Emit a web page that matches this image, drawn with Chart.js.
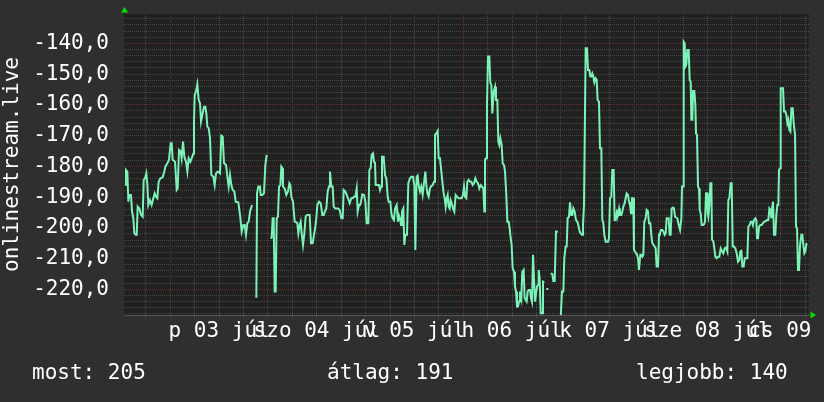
<!DOCTYPE html>
<html>
<head>
<meta charset="utf-8">
<style>
  html, body { margin: 0; padding: 0; background: #2f2f2f; }
  #wrap { width: 824px; height: 402px; }
</style>
<script src="https://cdn.jsdelivr.net/npm/chart.js@4.4.1/dist/chart.umd.min.js"></script>
</head>
<body>
<div id="wrap"><canvas id="grafikon" width="824" height="402"></canvas></div>
<script>
// Idő (órák 07.03 00:00-tól) és mért értékek, null = adathiány
const hours = [
  -11.05, -10.89, -10.56, -10.31, -10.07, -9.66, -9.41, -9.08, -8.84, -8.51,
  -8.26, -8.02, -7.61, -7.20, -6.79, -6.54, -6.22, -5.89, -5.64, -5.40,
  -4.99, -4.58, -4.17, -3.84, -3.51, -3.19, -2.86, -2.45, -1.87, -1.47,
  -1.22, -0.73, -0.32, 0.09, 0.34, 0.58, 1.16, 1.57, 1.81, 2.14,
  2.55, 2.79, 3.12, 3.45, 3.86, 4.19, 4.51, 4.92, 5.25, 5.66,
  5.82, 5.99, 6.32, 6.64, 6.97, 7.30, 7.55, 7.95, 8.28, 8.61,
  8.86, 9.10, 9.43, 9.76, 10.08, 10.58, 10.90, 11.23, 11.64, 12.21,
  12.54, 12.87, 13.20, 13.69, 14.02, 14.34, 14.67, 15.00, 15.33, 15.74,
  16.06, 16.72, 17.13, 17.54, 17.95, 18.28, 18.60, 18.93, 19.26, 19.59,
  20.08, 20.50, 20.90, 21.15, 21.31, 21.63, 22.04, 22.20, 22.61, 23.02,
  23.35, 23.68, 24.10, 24.58, 24.91, 25.15, 25.40, 25.65, 25.89, 26.14,
  26.46, 26.71, 27.04, 27.28, 27.53, 27.69, 28.10, 28.51, 28.92, 29.25,
  29.50, 29.74, 30.15, 30.56, 30.97, 31.22, 31.46, 31.79, 32.03, 32.28,
  32.61, 32.94, 33.26, 33.59, 34.25, 34.57, 34.98, 35.31, 35.64, 35.88,
  36.13, 36.54, 36.95, 37.36, 37.69, 38.01, 38.34, 38.67, 39.00, 39.24,
  39.57, 39.90, 40.14, 40.55, 41.21, 41.62, 42.03, 42.36, 42.60, 43.01,
  43.34, 43.67, 44.08, 44.49, 44.81, 45.14, 45.47, 45.80, 46.04, 46.37,
  46.62, 46.86, 47.19, 47.60, 47.93, 48.25, 48.66, 48.91, 49.24, 49.48,
  49.81, 50.06, 50.30, 50.47, 50.88, 51.29, 51.53, 51.78, 52.02, 52.43,
  52.76, 53.09, 53.42, 53.66, 54.07, 54.32, 54.64, 54.97, 55.22, 55.63,
  55.95, 56.12, 56.44, 56.69, 56.93, 57.26, 57.51, 57.75, 58.16, 58.49,
  58.90, 59.23, 59.64, 59.97, 60.21, 60.54, 60.78, 61.03, 61.36, 61.69,
  62.01, 62.34, 62.67, 62.91, 63.16, 63.49, 63.73, 63.98, 64.47, 64.80,
  65.04, 65.37, 65.70, 65.94, 66.27, 66.52, 66.85, 67.17, 67.42, 67.66,
  67.91, 68.16, 68.40, 68.65, 68.89, 69.14, 69.47, 69.79, 70.12, 70.45,
  70.86, 71.27, 71.60, 71.92, 72.17, 72.42, 72.74, 72.99, 73.32, 73.64,
  73.97, 74.30, 74.63, 74.96, 75.28, 75.61, 75.94, 76.27, 76.59, 76.92,
  77.17, 77.33, 77.58, 77.82, 78.07, 78.40, 78.64, 78.89, 79.13, 79.46,
  79.79, 80.03, 80.36, 80.61, 80.85, 81.10, 81.43, 81.67, 82.00, 82.25,
  82.57, 82.82, 83.15, 83.39, 83.64, 83.88, 84.13, 84.46, 84.70, 84.95,
  85.19, 85.44, 85.69, 85.93, 86.26, 86.50, 86.83, 87.08, 87.33, 87.57,
  87.82, 88.06, 88.39, 88.64, 88.88, 89.13, 89.37, 89.62, 89.86, 90.11,
  90.36, 90.52, 90.76, 91.01, 91.34, 91.58, 91.91, 92.15, 92.40, 92.89,
  93.20, 93.47, 93.88, 94.12, 94.45, 94.78, 95.02, 95.50, 95.92, 96.25,
  96.58, 96.82, 97.15, 97.40, 97.64, 97.97, 98.22, 98.54, 98.79, 99.04,
  99.36, 99.69, 100.02, 100.26, 100.59, 100.84, 101.17, 101.41, 101.66, 101.90,
  102.07, 102.39, 102.64, 102.97, 103.21, 103.46, 103.70, 103.95, 104.20, 104.52,
  104.77, 105.01, 105.34, 105.59, 105.92, 106.16, 106.41, 106.65, 106.98, 107.55,
  107.80, 108.05, 108.37, 108.62, 108.95, 109.19, 109.44, 109.77, 110.01, 110.26,
  110.50, 110.83, 111.08, 111.32, 111.65, 111.90, 112.14, 112.47, 112.72, 112.96,
  113.21, 113.45, 113.78, 113.94, 114.19, 114.44, 114.68, 114.93, 115.17, 115.50,
  115.75, 115.99, 116.24, 116.48, 116.81, 117.06, 117.38, 117.63, 117.96, 118.20,
  118.45, 118.78, 119.02, 119.27, 119.51, 119.84, 120.09, 120.33, 120.58, 120.91,
  121.15, 121.48, 121.73, 121.97, 122.46, 122.71, 122.95, 123.20, 123.53, 123.77,
  124.02, 124.60, 124.93, 125.26, 125.58, 125.75, 125.99, 126.16, 126.40, 126.57,
  126.81, 127.06, 127.39, 127.63, 127.88, 128.04, 128.29, 128.45, 128.78, 129.02,
  129.19, 129.43, 129.68, 129.92, 130.09, 130.33, 130.58, 130.91, 131.15, 131.40,
  131.65, 131.89, 132.05, 132.22, 132.46, 132.71, 132.96, 133.12, 133.45, 133.69,
  133.94, 134.27, 134.59, 134.92, 135.25, 135.58, 135.90, 136.23, 136.56, 136.89,
  137.13, 137.38, 137.71, 137.95, 138.20, 138.53, 138.85, 139.18, 139.51, 139.84,
  140.08, 140.33, 140.57, 140.90, 141.15, 141.80, 142.05, 142.38, 142.62, 142.95,
  143.19, 143.44, 143.77, 144.01, 144.18, 144.42, 144.67, 145.00, 145.32, 145.65,
  145.98, 146.31, 146.63, 146.96, 147.21, 147.45, 147.70, 147.86, 148.11, 148.35,
  148.68, 148.93, 149.17, 149.42, 149.58, 149.83, 149.99, 150.57, 150.81, 151.14,
  151.39, 151.63, 151.88, 152.12, 152.37, 152.62, 152.94, 153.19, 153.52, 153.76,
  154.01, 154.25, 154.50, 154.75, 155.07, 155.32, 155.56, 155.81, 156.06, 156.30,
  156.55
];

const values = [
  -186.1, -181.2, -181.7, -191.5, -189.3, -189.3, -194.7, -196.9, -201.8, -202.3,
  -202.3, -193.1, -193.7, -195.8, -196.4, -184.4, -183.9, -182.3, -186.1, -192.6,
  -191.0, -192.6, -190.4, -188.8, -189.9, -190.4, -185.0, -183.9, -183.6, -181.7,
  -180.1, -179.0, -177.9, -172.5, -172.5, -177.9, -178.5, -187.7, -187.2, -174.7,
  -175.2, -177.4, -172.0, -176.9, -178.5, -181.7, -177.4, -178.5, -177.4, -175.8,
  -165.5, -156.8, -155.7, -153.3, -158.4, -159.5, -165.5, -162.8, -160.6, -160.6,
  -162.8, -167.1, -167.6, -170.9, -182.8, -183.4, -186.1, -182.3, -181.7, -182.3,
  -170.0, -170.3, -179.0, -179.6, -183.4, -186.6, -182.8, -186.1, -187.7, -188.2,
  -191.5, -191.7, -195.8, -201.2, -199.1, -199.1, -202.3, -198.5, -198.0, -194.7,
  -192.6, null, -222.4, -222.4, -188.8, -186.6, -186.6, -189.3, -189.3, -188.8,
  -179.6, -176.3, null, -203.2, -203.2, -196.9, -196.9, -220.7, -220.7, -196.9,
  -196.4, -186.6, -186.1, -180.1, -180.6, -186.6, -187.2, -189.3, -188.2, -185.5,
  -186.1, -189.9, -191.5, -198.0, -198.2, -198.5, -201.8, -199.1, -198.0, -201.8,
  -205.6, -201.8, -196.4, -195.8, -195.8, -205.0, -205.0, -202.3, -199.6, -196.9,
  -192.6, -191.5, -192.0, -195.8, -195.8, -194.7, -193.7, -188.2, -186.6, -181.7,
  -186.6, -186.6, -193.1, -193.7, -193.7, -194.2, -196.9, -196.9, -187.7, -188.2,
  -189.3, -190.4, -192.0, -190.4, -190.4, -189.9, -189.9, -187.2, -194.7, -192.6,
  -192.6, -191.5, -189.1, -189.3, -191.5, -198.5, -198.5, -181.2, -180.6, -176.3,
  -175.8, -178.5, -179.0, -186.1, -186.1, -186.1, -187.7, -186.6, -176.9, -176.9,
  -182.8, -183.9, -189.9, -191.5, -191.5, -195.3, -196.9, -197.5, -193.7, -192.6,
  -198.0, -195.8, -196.9, -199.1, -194.7, -193.7, -205.6, -202.3, -202.3, -185.5,
  -183.9, -183.4, -183.4, -186.1, -207.2, -183.4, -183.0, -186.1, -188.2, -186.6,
  -189.3, -185.5, -181.7, -186.1, -188.8, -189.9, -187.7, -186.6, -186.1, -185.0,
  -169.8, -169.3, -168.5, -177.4, -177.4, -180.6, -185.0, -188.8, -190.4, -193.1,
  -190.4, -189.3, -193.1, -193.7, -191.0, -192.0, -193.7, -194.7, -189.3, -189.9,
  -190.4, -190.4, -190.4, -189.3, -186.6, -189.9, -190.4, -185.0, -184.4, -185.0,
  -185.0, -186.1, -185.5, -183.9, -185.0, -185.5, -187.2, -186.1, -186.6, -187.2,
  -194.7, -177.9, -177.4, -160.0, -144.3, -144.3, -153.0, -153.5, -162.8, -155.7,
  -154.1, -158.4, -158.4, -172.0, -173.1, -170.9, -173.1, -179.0, -179.6, -181.7,
  -189.3, -198.0, -198.0, -200.2, -203.4, -205.6, -213.2, -214.3, -219.1, -220.7,
  -225.6, -225.6, -224.0, -220.7, -222.9, -214.3, -213.7, -222.9, -223.5, -224.0,
  -220.7, -220.2, -220.2, -222.9, -224.0, -208.8, -208.8, -224.0, -224.0, -219.1,
  -218.6, -213.7, -216.4, -227.8, -227.8, -217.5, -217.7, null, -219.9, -219.9,
  null, -214.8, -215.1, -217.3, -217.3, -201.2, -201.0, null, -229.5, -220.7,
  -220.7, -209.9, -206.1, -206.1, -196.9, -196.4, -191.7, -195.8, -195.8, -193.7,
  -194.7, -197.5, -198.0, -199.1, -201.2, -201.8, -202.3, -199.1, -192.6, -192.6,
  -141.6, -141.6, -148.7, -148.7, -150.8, -150.8, -149.8, -150.8, -152.7, -151.4,
  -151.9, -158.4, -159.0, -174.1, -174.1, -197.5, -198.5, -202.3, -204.5, -204.5,
  -203.4, -190.4, -189.9, -181.2, -181.2, -197.5, -197.5, -194.7, -195.3, -193.7,
  -195.8, -195.8, -194.7, -193.1, -192.0, -190.4, -188.8, -189.3, -191.5, -192.6,
  -195.3, -190.4, -190.4, -207.2, -207.7, -208.3, -208.8, -209.9, -213.7, -208.8,
  -208.8, -209.4, -208.8, -198.0, -196.9, -194.2, -194.7, -198.5, -198.5, -202.3,
  -205.0, -205.6, -206.1, -206.7, -212.6, -212.6, -202.3, -201.8, -200.7, -200.7,
  -201.2, -202.3, -201.8, -196.9, -196.9, -202.3, -202.3, -193.7, -193.4, -193.7,
  -196.4, -196.9, -199.1, -200.7, -196.9, -186.6, -186.6, -139.5, -140.0, -147.6,
  -147.0, -142.2, -142.2, -151.9, -152.5, -164.9, -164.9, -155.5, -155.5, -160.0,
  -169.3, -169.8, -186.6, -187.2, -194.2, -195.3, -199.1, -199.1, -198.9, -198.0,
  -188.8, -188.8, -195.3, -196.4, -192.6, -185.5, -185.5, -203.9, -204.5, -206.7,
  -209.4, -209.9, -209.4, -209.4, -206.7, -207.7, -208.3, -206.7, -206.4, -207.7,
  -191.0, -190.4, -185.5, -185.5, -206.1, -206.1, -206.7, -208.3, -211.0, -210.5,
  -207.7, -207.5, -212.6, -212.6, -209.9, -209.9, -199.6, -199.1, -198.0, -198.0,
  -199.1, -197.5, -196.9, -197.5, -203.4, -203.4, -199.6, -199.1, -199.1, -198.5,
  -198.0, -197.8, -197.5, -197.5, -193.7, -194.2, -196.9, -193.7, -191.5, -202.3,
  -202.3, -195.8, -192.6, -192.6, -181.2, -180.6, -154.6, -154.6, -162.2, -162.2,
  -163.3, -166.0, -164.9, -168.2, -168.7, -161.1, -161.1, -166.0, -169.8, -199.6,
  -200.2, -213.7, -213.7, -205.6, -202.3, -202.3, -205.6, -208.3, -207.7, -205.3,
  -205.3
];

// Napok feliratai (délben középre igazítva)
const dayLabels = ["p 03 júl", "szo 04 júl", "v 05 júl", "h 06 júl", "k 07 júl", "sze 08 júl", "cs 09 júl"];
const statLabels = ["most: 205", "átlag: 191", "legjobb: 140"];
const axisTitle = "onlinestream.live";

// Tengely tartományok
const xMin = -11.38, xMax = 156.95;
const yMin = -228.36, yMax = -130.47;

// Színek
const BG = "#2f2f2f";
const PLOT_BG = "#212121";
const GRID = "#474747";
const GRID_MAJOR = "#653131";
const LINE = "#7cf2b6";
const ARROW = "#00e000";
const FONT = { family: "DejaVu Sans Mono", size: 21 };

Chart.defaults.color = "#ffffff";
Chart.defaults.font.family = FONT.family;
Chart.defaults.font.size = FONT.size;

// Háttér, nyilak és az alsó statisztika sor
const rrdDecor = {
  id: "rrdDecor",
  beforeDraw(chart) {
    const { ctx, chartArea: a } = chart;
    ctx.save();
    ctx.fillStyle = BG;
    ctx.fillRect(0, 0, chart.width, chart.height);
    ctx.fillStyle = PLOT_BG;
    ctx.fillRect(a.left, a.top, a.right - a.left, a.bottom - a.top);
    ctx.restore();
  },
  afterDraw(chart) {
    const { ctx, chartArea: a } = chart;
    ctx.save();
    ctx.fillStyle = ARROW;
    ctx.beginPath();
    ctx.moveTo(a.left + 0.5, a.top - 7);
    ctx.lineTo(a.left - 3, a.top - 1.5);
    ctx.lineTo(a.left + 4, a.top - 1.5);
    ctx.closePath();
    ctx.fill();
    ctx.beginPath();
    ctx.moveTo(a.right + 7, a.bottom);
    ctx.lineTo(a.right + 1.5, a.bottom - 3.5);
    ctx.lineTo(a.right + 1.5, a.bottom + 3.5);
    ctx.closePath();
    ctx.fill();

    ctx.fillStyle = "#ffffff";
    ctx.font = FONT.size + "px " + FONT.family;
    ctx.textBaseline = "middle";
    ctx.textAlign = "left";
    const xs = [32, 327, 636];
    statLabels.forEach((t, i) => ctx.fillText(t, xs[i], 374));
    ctx.restore();
  },
};

const points = hours.map((h, i) => ({ x: h, y: values[i] }));

const config = {
  type: "line",
  data: {
    datasets: [
      {
        data: points,
        borderColor: LINE,
        borderWidth: 2,
        pointRadius: 0,
        tension: 0,
        spanGaps: false,
        fill: false,
      },
    ],
  },
  options: {
    responsive: false,
    animation: false,
    devicePixelRatio: 1,
    layout: { padding: { top: 14, right: 15, left: 0, bottom: 0 } },
    plugins: {
      legend: { display: false },
      tooltip: { enabled: false },
    },
    scales: {
      x: {
        type: "linear",
        min: xMin,
        max: xMax,
        afterBuildTicks(scale) {
          const t = [];
          for (let v = -6; v <= 156; v += 6) t.push({ value: v });
          scale.ticks = t;
        },
        afterFit(scale) {
          scale.paddingLeft = 0;
          scale.paddingRight = 0;
          scale.height = 87;
        },
        grid: {
          color: (c) => (c.tick && c.tick.value % 24 === 0 ? GRID_MAJOR : GRID),
          drawTicks: true,
          tickLength: 3,
        },
        border: { display: true, color: "#555555", dash: [1, 1] },
        ticks: {
          autoSkip: false,
          maxRotation: 0,
          minRotation: 0,
          padding: 1,
          callback(value) {
            const k = (value - 12) / 24;
            return Number.isInteger(k) ? dayLabels[k] : "";
          },
        },
      },
      y: {
        min: yMin,
        max: yMax,
        afterBuildTicks(scale) {
          const t = [];
          for (let v = -228; v <= -132; v += 2) t.push({ value: v });
          scale.ticks = t;
        },
        afterFit(scale) {
          scale.width = 124;
          scale.paddingTop = 0;
          scale.paddingBottom = 0;
        },
        grid: {
          color: (c) => (c.tick && c.tick.value % 20 === 0 ? GRID_MAJOR : GRID),
          drawTicks: false,
        },
        border: { display: false, dash: [1, 1] },
        ticks: {
          autoSkip: false,
          padding: 15,
          callback: (v) => (v % 10 === 0 ? v.toFixed(1).replace(".", ",") : ""),
        },
        title: {
          display: true,
          text: axisTitle,
          padding: { top: 0, bottom: 0 },
        },
      },
    },
  },
  plugins: [rrdDecor],
};

new Chart(document.getElementById("grafikon").getContext("2d"), config);
</script>
</body>
</html>
